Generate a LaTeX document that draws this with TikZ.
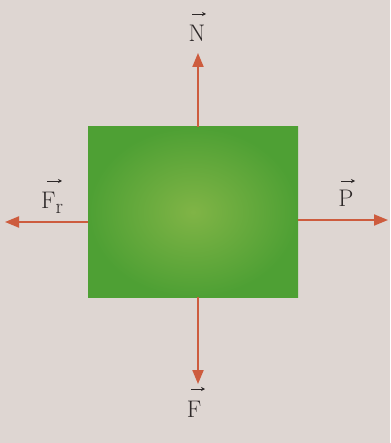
\documentclass[tikz,border=0pt]{standalone}
\usetikzlibrary{arrows.meta}
\definecolor{bg}{RGB}{222,214,210}
\definecolor{boxedge}{RGB}{78,160,52}
\definecolor{boxmid}{RGB}{128,180,70}
\definecolor{force}{RGB}{205,92,62}
\definecolor{ink}{RGB}{45,40,40}
\begin{document}
\begin{tikzpicture}[x=1pt,y=-1pt,
  force/.style={draw=force,line width=2pt,-{Triangle[length=14pt,width=11pt]}},
  vecarrow/.style={draw=ink,line width=0.9pt,-{Stealth[length=4pt,width=4pt]}},
  lbl/.style={text=ink,font=\fontsize{24}{28}\selectfont,inner sep=0pt,anchor=base}]
\fill[bg] (0,0) rectangle (390,443);
\useasboundingbox (0,0) rectangle (390,443);
\node[draw=none,inner sep=0pt,minimum width=210pt,minimum height=170pt,
  inner color=boxmid,outer color=boxedge] (box) at (193,212) {};
\coordinate (nt) at (198,53);
\coordinate (ft) at (198,384);
\coordinate (lt) at (5,222);
\coordinate (rt) at (388,220);
\draw[force] (box.north -| nt) -- (nt);
\draw[force] (box.south -| ft) -- (ft);
\draw[force] (box.west |- lt) -- (lt);
\draw[force] (box.east |- rt) -- (rt);
% labels
\node[lbl] (N) at (197,42) {N};
\node[lbl] (F) at (194,417) {F};
\node[lbl,anchor=base west] (Fr) at (41,208) {F\raisebox{-5pt}{\fontsize{21}{21}\selectfont r}};
\node[lbl] (P) at (346,207) {P};
% vector arrows
\coordinate (na1) at (192,14); \coordinate (na2) at (206,14);
\coordinate (fa1) at (191,389); \coordinate (fa2) at (205,389);
\coordinate (ra1) at (47,181); \coordinate (ra2) at (62,181);
\coordinate (pa1) at (341,181); \coordinate (pa2) at (355,181);
\draw[vecarrow] (na1) -- (na2);
\draw[vecarrow] (fa1) -- (fa2);
\draw[vecarrow] (ra1) -- (ra2);
\draw[vecarrow] (pa1) -- (pa2);
\end{tikzpicture}
\end{document}
